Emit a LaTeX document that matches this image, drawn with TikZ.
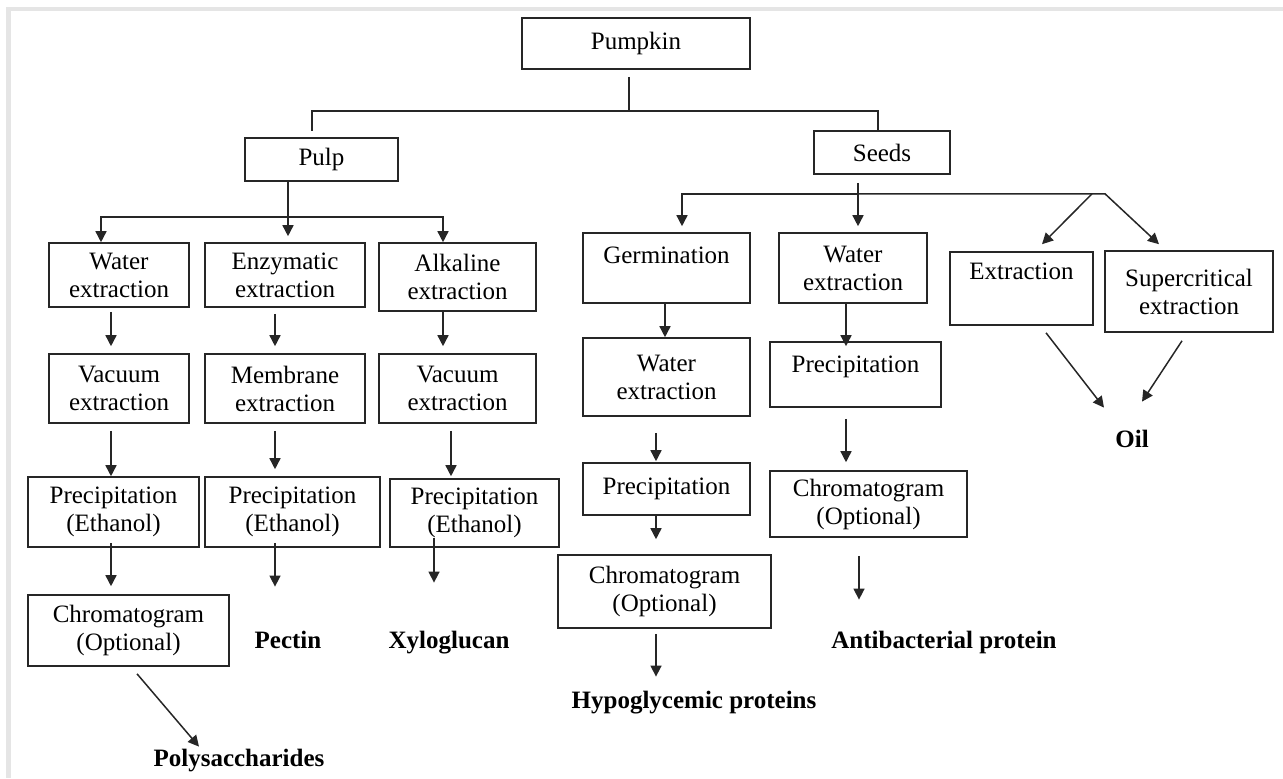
\documentclass[tikz,border=0pt]{standalone}
\usepackage{fontspec}
\setmainfont{Liberation Serif}
\usepackage{tikz}
\usetikzlibrary{arrows.meta}

\begin{document}
\begin{tikzpicture}[x=0.5pt, y=-0.5pt, font=\fontsize{12.5}{14}\selectfont,
  box/.style={draw=black!85, line width=0.8pt, align=center, inner sep=1pt},
  result/.style={font=\fontsize{12.5}{14}\selectfont\bfseries, inner sep=0pt, text height=9pt, text depth=2.5pt},
  conn/.style={line width=0.75pt, draw=black!85},
  arr/.style={conn, -{Triangle[length=5.5pt, width=5.5pt]}}]
  \useasboundingbox (0,0) rectangle (1283,778);
  \fill[gray!20] (6,7) rectangle (1283,11);
  \fill[gray!20] (6,7) rectangle (11,778);

  \node[box, minimum width=114pt, minimum height=25.5pt] (pump) at (636,43.5) {Pumpkin};
  \node[box, minimum width=76.5pt, minimum height=21.5pt] (pulp) at (321.5,159.5) {Pulp};
  \node[box, minimum width=68pt, minimum height=21.5pt] (seeds) at (882,152.5) {Seeds};

  % pulp side
  \node[box, minimum width=70pt, minimum height=32pt] (pwat) at (119,275) {Water\\extraction};
  \node[box, minimum width=80pt, minimum height=32pt] (penz) at (285,275) {Enzymatic\\extraction};
  \node[box, minimum width=78.5pt, minimum height=34pt] (palk) at (457.5,277) {Alkaline\\extraction};
  \node[box, minimum width=70pt, minimum height=34.5pt] (pvac) at (119,388.5) {Vacuum\\extraction};
  \node[box, minimum width=80pt, minimum height=34.5pt] (pmem) at (285,388.5) {Membrane\\extraction};
  \node[box, minimum width=78.5pt, minimum height=34.5pt] (pvacb) at (457.5,388.5) {Vacuum\\extraction};
  \node[box, minimum width=85.5pt, minimum height=35pt] (ppre) at (113.5,512) {Precipitation\\(Ethanol)};
  \node[box, minimum width=87.5pt, minimum height=35pt] (ppreb) at (292.5,512) {Precipitation\\(Ethanol)};
  \node[box, minimum width=84.5pt, minimum height=34pt] (pprec) at (474.5,513) {Precipitation\\(Ethanol)};
  \node[box, minimum width=100.5pt, minimum height=35.5pt] (pchr) at (128.5,630.5) {Chromatogram\\(Optional)};
  \node[result] (pect) at (288,642) {Pectin};
  \node[result] (xylo) at (449,642) {Xyloglucan};
  \node[result] (poly) at (239,760) {Polysaccharides};

  % seeds side
  \node[box, minimum width=83.5pt, minimum height=35pt, text depth=13pt] (sgerm) at (666.5,268) {Germination};
  \node[box, minimum width=74pt, minimum height=35pt] (swat) at (853,268) {Water\\extraction};
  \node[box, minimum width=71.5pt, minimum height=36.5pt, text depth=17pt] (sext) at (1021.5,288.5) {Extraction};
  \node[box, minimum width=84pt, minimum height=40.5pt] (ssup) at (1189,291.5) {Supercritical\\extraction};
  \node[box, minimum width=83.5pt, minimum height=39pt] (swatb) at (666.5,377) {Water\\extraction};
  \node[box, minimum width=85.5pt, minimum height=32.5pt, text depth=10pt] (spre) at (855.5,374.5) {Precipitation};
  \node[box, minimum width=83.5pt, minimum height=26pt] (spreb) at (666.5,489) {Precipitation};
  \node[box, minimum width=98.5pt, minimum height=33pt] (schr) at (868.5,504) {Chromatogram\\(Optional)};
  \node[box, minimum width=106.5pt, minimum height=36.5pt] (schrb) at (664.5,591.5) {Chromatogram\\(Optional)};
  \node[result] (oil) at (1132,441) {Oil};
  \node[result] (hypo) at (694,702) {Hypoglycemic proteins};
  \node[result] (anti) at (944,642) {Antibacterial protein};

  \draw[conn] ([shift={(-7,7)}]pump.south) -- ++(0,34) -| ([shift={(-9.5,-6)}]pulp.north);
  \draw[conn] ([shift={(-7,41)}]pump.south) -| ([shift={(-4,0)}]seeds.north);

  \draw[arr] ([shift={(-33.5,0)}]pulp.south) -- ([shift={(3,-6)}]penz.north);
  \draw[arr] ([shift={(-33.5,35)}]pulp.south) -| ([shift={(-18,0)}]pwat.north);
  \draw[arr] ([shift={(-33.5,35)}]pulp.south) -| ([shift={(-14.5,0)}]palk.north);
  \draw[arr] ([shift={(-8,4)}]pwat.south) -- ([shift={(-8,-7)}]pvac.north);
  \draw[arr] ([shift={(-10,6)}]penz.south) -- ([shift={(-10,-7)}]pmem.north);
  \draw[arr] ([shift={(-14.5,0)}]palk.south) -- ([shift={(-14.5,-7)}]pvacb.north);
  \draw[arr] ([shift={(-8,7)}]pvac.south) -- ([shift={(-2.5,0)}]ppre.north);
  \draw[arr] ([shift={(-10,7)}]pmem.south) -- ([shift={(-17.5,-7)}]ppreb.north);
  \draw[arr] ([shift={(-6.5,7)}]pvacb.south) -- ([shift={(-23.5,-2)}]pprec.north);
  \draw[arr] ([shift={(-2.5,-5)}]ppre.south) -- ([shift={(-17.5,-8)}]pchr.north);
  \draw[arr] ([shift={(-17.5,-5)}]ppreb.south) -- ([shift={(-13,-43.5)}]pect.north);
  \draw[arr] ([shift={(-40.5,-10)}]pprec.south) -- ([shift={(-15,-47.5)}]xylo.north);
  \draw[arr] ([shift={(8.5,7)}]pchr.south) -- ([shift={(-40,-1.5)}]poly.north);

  \draw[arr] ([shift={(-24,8)}]seeds.south) -- ([shift={(5,-6)}]swat.north);
  \draw[arr] ([shift={(-24,19)}]seeds.south) -| ([shift={(15.5,-6)}]sgerm.north);
  \draw[arr] ([shift={(-24,19)}]seeds.south) -- ++(247,0) -- ([shift={(-30,-6)}]ssup.north);
  \draw[arr] ([shift={(210,19)}]seeds.south) -- ([shift={(20.5,-7)}]sext.north);
  \draw[arr] ([shift={(-1.5,0)}]sgerm.south) -- ([shift={(-1.5,0)}]swatb.north);
  \draw[arr] ([shift={(-7,0)}]swat.south) -- ([shift={(-9.5,5)}]spre.north);
  \draw[arr] ([shift={(-10.5,16)}]swatb.south) -- ([shift={(-10.5,-1)}]spreb.north);
  \draw[arr] ([shift={(-10.5,0)}]spreb.south) -- ([shift={(-8.5,-15)}]schrb.north);
  \draw[arr] ([shift={(-8.5,5)}]schrb.south) -- ([shift={(-38,-13.5)}]hypo.north);
  \draw[arr] ([shift={(-9.5,11)}]spre.south) -- ([shift={(-22.5,-8)}]schr.north);
  \draw[arr] ([shift={(-9.5,18)}]schr.south) -- ([shift={(-85,-30.5)}]anti.north);
  \draw[arr] ([shift={(24.5,7)}]sext.south) -- ([shift={(-28,-21.5)}]oil.north);
  \draw[arr] ([shift={(-7,8)}]ssup.south) -- ([shift={(10,-27.5)}]oil.north);
\end{tikzpicture}
\end{document}
